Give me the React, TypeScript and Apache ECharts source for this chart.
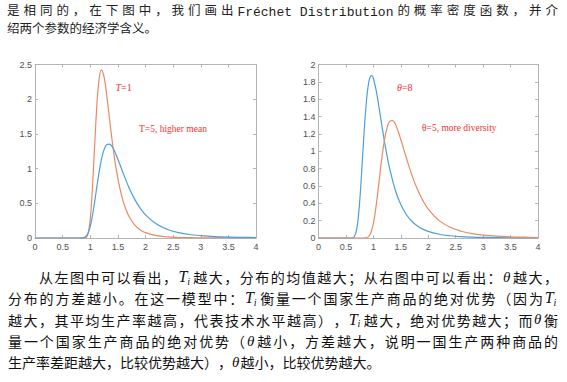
import React, { useEffect, useRef } from "react";
import * as echarts from "echarts";

// ---------- data ----------
const xTickLabels = ["0", "0.5", "1", "1.5", "2", "2.5", "3", "3.5", "4"];
const leftYTickLabels = ["0", "0.5", "1", "1.5", "2", "2.5"];
const rightYTickLabels = ["0", "0.2", "0.4", "0.6", "0.8", "1", "1.2", "1.4", "1.6", "1.8", "2"];

// left chart, orange curve (T=1)
const leftOrangeX = [0, 0.5, 0.8, 0.9, 0.95, 1.0, 1.05, 1.1, 1.15, 1.2, 1.25, 1.3, 1.35, 1.4, 1.45, 1.5, 1.55, 1.6, 1.65, 1.7, 1.8, 1.9, 2.0, 2.2, 2.4, 2.6, 2.8, 3.0, 3.5, 4.0];
const leftOrangeY = [0, 0, 0, 0.001, 0.034, 0.27, 0.874, 1.646, 2.218, 2.423, 2.32, 2.043, 1.707, 1.38, 1.093, 0.856, 0.667, 0.518, 0.403, 0.314, 0.193, 0.12, 0.077, 0.033, 0.015, 0.007, 0.004, 0.002, 0.0005, 0.0002];

// blue curve in the left chart and orange curve in the right chart (same shape)
const wideX = [0, 0.5, 0.8, 0.85, 0.9, 0.95, 1.0, 1.05, 1.1, 1.15, 1.2, 1.25, 1.3, 1.35, 1.4, 1.45, 1.5, 1.6, 1.7, 1.8, 1.9, 2.0, 2.2, 2.4, 2.6, 2.8, 3.0, 3.25, 3.5, 3.75, 4.0];
const wideY = [0, 0, 0, 0.001, 0.01, 0.053, 0.168, 0.371, 0.633, 0.9, 1.123, 1.273, 1.347, 1.354, 1.311, 1.233, 1.136, 0.925, 0.728, 0.564, 0.434, 0.334, 0.2, 0.123, 0.078, 0.05, 0.034, 0.021, 0.013, 0.009, 0.006];

// right chart, blue curve (theta=8)
const rightBlueX = [0, 0.5, 0.6, 0.65, 0.7, 0.75, 0.8, 0.85, 0.9, 0.95, 0.975, 1.0, 1.05, 1.1, 1.15, 1.2, 1.25, 1.3, 1.4, 1.5, 1.6, 1.7, 1.8, 1.9, 2.0, 2.2, 2.4, 2.6, 2.8, 3.0, 3.5, 4.0];
const rightBlueY = [0, 0, 0.0003, 0.012, 0.111, 0.416, 0.902, 1.392, 1.73, 1.868, 1.871, 1.839, 1.704, 1.517, 1.315, 1.12, 0.945, 0.791, 0.551, 0.385, 0.271, 0.193, 0.139, 0.102, 0.076, 0.043, 0.026, 0.016, 0.01, 0.007, 0.003, 0.001];

// ---------- text ----------
type Tok = { k: "c" | "T" | "th" | "m"; s?: string };
const cjk = (s: string): Tok[] => Array.from(s).map((ch) => ({ k: "c", s: ch }));
const T: Tok = { k: "T" };
const TH: Tok = { k: "th" };

const topLine1: Tok[] = [...cjk("是相同的，在下图中，我们画出"), { k: "m", s: "Fréchet Distribution" }, ...cjk("的概率密度函数，并介")];
const topLine2: Tok[] = cjk("绍两个参数的经济学含义。");

const para1: Tok[] = [...cjk("从左图中可以看出，"), T, ...cjk("越大，分布的均值越大；从右图中可以看出："), TH, ...cjk("越大，")];
const para2: Tok[] = [...cjk("分布的方差越小。在这一模型中："), T, ...cjk("衡量一个国家生产商品的绝对优势（因为"), T];
const para3: Tok[] = [...cjk("越大，其平均生产率越高，代表技术水平越高），"), T, ...cjk("越大，绝对优势越大；而"), TH, ...cjk("衡")];
const para4: Tok[] = [...cjk("量一个国家生产商品的绝对优势（"), TH, ...cjk("越小，方差越大，说明一国生产两种商品的")];
const para5: Tok[] = [...cjk("生产率差距越大，比较优势越大），"), TH, ...cjk("越小，比较优势越大。")];

const CJK_FONT = '"Noto Sans CJK SC", sans-serif';
const SERIF = '"Liberation Serif", serif';
const MONO = '"Liberation Mono", monospace';
const MONO_FS = 13;

function buildLine(toks: Tok[], x0: number, x1: number, y: number, fs: number, justify: boolean, fill: string): any[] {
  const w = (t: Tok) =>
    t.k === "c" ? fs : t.k === "T" ? fs * 0.95 : t.k === "th" ? fs * 0.6 : (t.s as string).length * 0.6 * MONO_FS;
  const total = toks.reduce((a, t) => a + w(t), 0);
  const gap = justify ? (x1 - x0 - total) / (toks.length - 1) : 0;
  const els: any[] = [];
  let x = x0;
  for (const t of toks) {
    if (t.k === "c") {
      els.push({ type: "text", x, y, silent: true, style: { text: t.s, fill, fontSize: fs, fontFamily: CJK_FONT, verticalAlign: "middle", align: "left" } });
    } else if (t.k === "m") {
      els.push({ type: "text", x, y: y + 3, silent: true, style: { text: t.s, fill, fontSize: MONO_FS, fontFamily: MONO, verticalAlign: "middle", align: "left" } });
    } else if (t.k === "T") {
      els.push({ type: "text", x, y: y - 0.5, silent: true, style: { text: "T", fill, fontSize: fs + 2, fontFamily: SERIF, fontStyle: "italic", verticalAlign: "middle", align: "left" } });
      els.push({ type: "text", x: x + fs * 0.62, y: y + fs * 0.3, silent: true, style: { text: "i", fill, fontSize: fs * 0.72, fontFamily: SERIF, fontStyle: "italic", verticalAlign: "middle", align: "left" } });
    } else {
      els.push({ type: "text", x, y: y - 0.5, silent: true, style: { text: "θ", fill, fontSize: fs + 1, fontFamily: SERIF, fontStyle: "italic", verticalAlign: "middle", align: "left" } });
    }
    x += w(t) + gap;
  }
  return els;
}

const AXIS_COLOR = "#b4b4b4";
const LABEL_COLOR = "#505050";
const BLUE = "#4d9fd8";
const ORANGE = "#e88a63";
const RED = "#f52f2f";

function xAxisPair(gridIndex: number): any[] {
  const base = {
    gridIndex,
    type: "value",
    min: 0,
    max: 4,
    interval: 0.5,
    splitLine: { show: false },
    axisLine: { show: true, onZero: false, lineStyle: { color: AXIS_COLOR, width: 1 } },
    axisTick: { show: true, inside: true, length: 3, lineStyle: { color: AXIS_COLOR } },
  };
  return [
    {
      ...base,
      position: "bottom",
      axisLabel: { show: true, fontSize: 9, color: LABEL_COLOR, margin: 4, fontFamily: '"Liberation Sans", Arial', formatter: (v: number) => xTickLabels[Math.round(v / 0.5)] },
    },
    { ...base, position: "top", axisLabel: { show: false } },
  ];
}

function yAxisPair(gridIndex: number, max: number, interval: number, labels: string[]): any[] {
  const base = {
    gridIndex,
    type: "value",
    min: 0,
    max,
    interval,
    splitLine: { show: false },
    axisLine: { show: true, onZero: false, lineStyle: { color: AXIS_COLOR, width: 1 } },
    axisTick: { show: true, inside: true, length: 3, lineStyle: { color: AXIS_COLOR } },
  };
  return [
    {
      ...base,
      position: "left",
      axisLabel: { show: true, fontSize: 9, color: LABEL_COLOR, margin: 3, fontFamily: '"Liberation Sans", Arial', formatter: (v: number) => labels[Math.round(v / interval)] },
    },
    { ...base, position: "right", axisLabel: { show: false } },
  ];
}

const pairs = (xs: number[], ys: number[]) => xs.map((x, i) => [x, ys[i]]);

function lineSeries(xIdx: number, yIdx: number, xs: number[], ys: number[], color: string): any {
  return {
    type: "line",
    xAxisIndex: xIdx,
    yAxisIndex: yIdx,
    data: pairs(xs, ys),
    showSymbol: false,
    symbol: "none",
    smooth: 0.4,
    lineStyle: { color, width: 1.2 },
    silent: true,
  };
}

export default function App() {
  const ref = useRef<HTMLDivElement>(null);
  useEffect(() => {
    if (!ref.current) return;
    const chart = echarts.init(ref.current, undefined, { renderer: "svg" });
    const graphics: any[] = [
      ...buildLine(topLine1, 7, 558, 9.2, 12.5, true, "#222"),
      ...buildLine(topLine2, 7, 558, 27.4, 12.5, false, "#222"),
      ...buildLine(para1, 39, 558, 277, 14, true, "#111"),
      ...buildLine(para2, 8, 558, 298, 14, true, "#111"),
      ...buildLine(para3, 8, 558, 319.5, 14, true, "#111"),
      ...buildLine(para4, 8, 558, 341, 14, true, "#111"),
      ...buildLine(para5, 8, 558, 362, 14, false, "#111"),
      // chart annotations
      { type: "text", x: 115.5, y: 87.5, silent: true, style: { text: "{i|T}=1", fill: RED, fontSize: 10, fontFamily: SERIF, verticalAlign: "middle", rich: { i: { fontStyle: "italic", fontSize: 10, fontFamily: SERIF, fill: RED } } } },
      { type: "text", x: 139, y: 128.5, silent: true, style: { text: "T=5, higher mean", fill: RED, fontSize: 9.5, fontFamily: SERIF, verticalAlign: "middle" } },
      { type: "text", x: 397, y: 87.5, silent: true, style: { text: "{i|θ}=8", fill: RED, fontSize: 10, fontFamily: SERIF, verticalAlign: "middle", rich: { i: { fontStyle: "italic", fontSize: 10, fontFamily: SERIF, fill: RED } } } },
      { type: "text", x: 422, y: 127.5, silent: true, style: { text: "θ=5, more diversity", fill: RED, fontSize: 9.5, fontFamily: SERIF, verticalAlign: "middle" } },
    ];
    chart.setOption({
      animation: false,
      backgroundColor: "#ffffff",
      grid: [
        { left: 35, top: 64.5, width: 221, height: 173.5, containLabel: false },
        { left: 318.5, top: 64.5, width: 219.5, height: 173.5, containLabel: false },
      ],
      xAxis: [...xAxisPair(0), ...xAxisPair(1)],
      yAxis: [...yAxisPair(0, 2.5, 0.5, leftYTickLabels), ...yAxisPair(1, 2, 0.2, rightYTickLabels)],
      series: [
        lineSeries(0, 0, leftOrangeX, leftOrangeY, ORANGE),
        lineSeries(0, 0, wideX, wideY, BLUE),
        lineSeries(2, 2, rightBlueX, rightBlueY, BLUE),
        lineSeries(2, 2, wideX, wideY, ORANGE),
      ],
      graphic: graphics,
    });
    return () => chart.dispose();
  }, []);
  return <div ref={ref} style={{ position: "absolute", left: 0, top: 0, width: 567, height: 382, background: "#fff" }} />;
}
